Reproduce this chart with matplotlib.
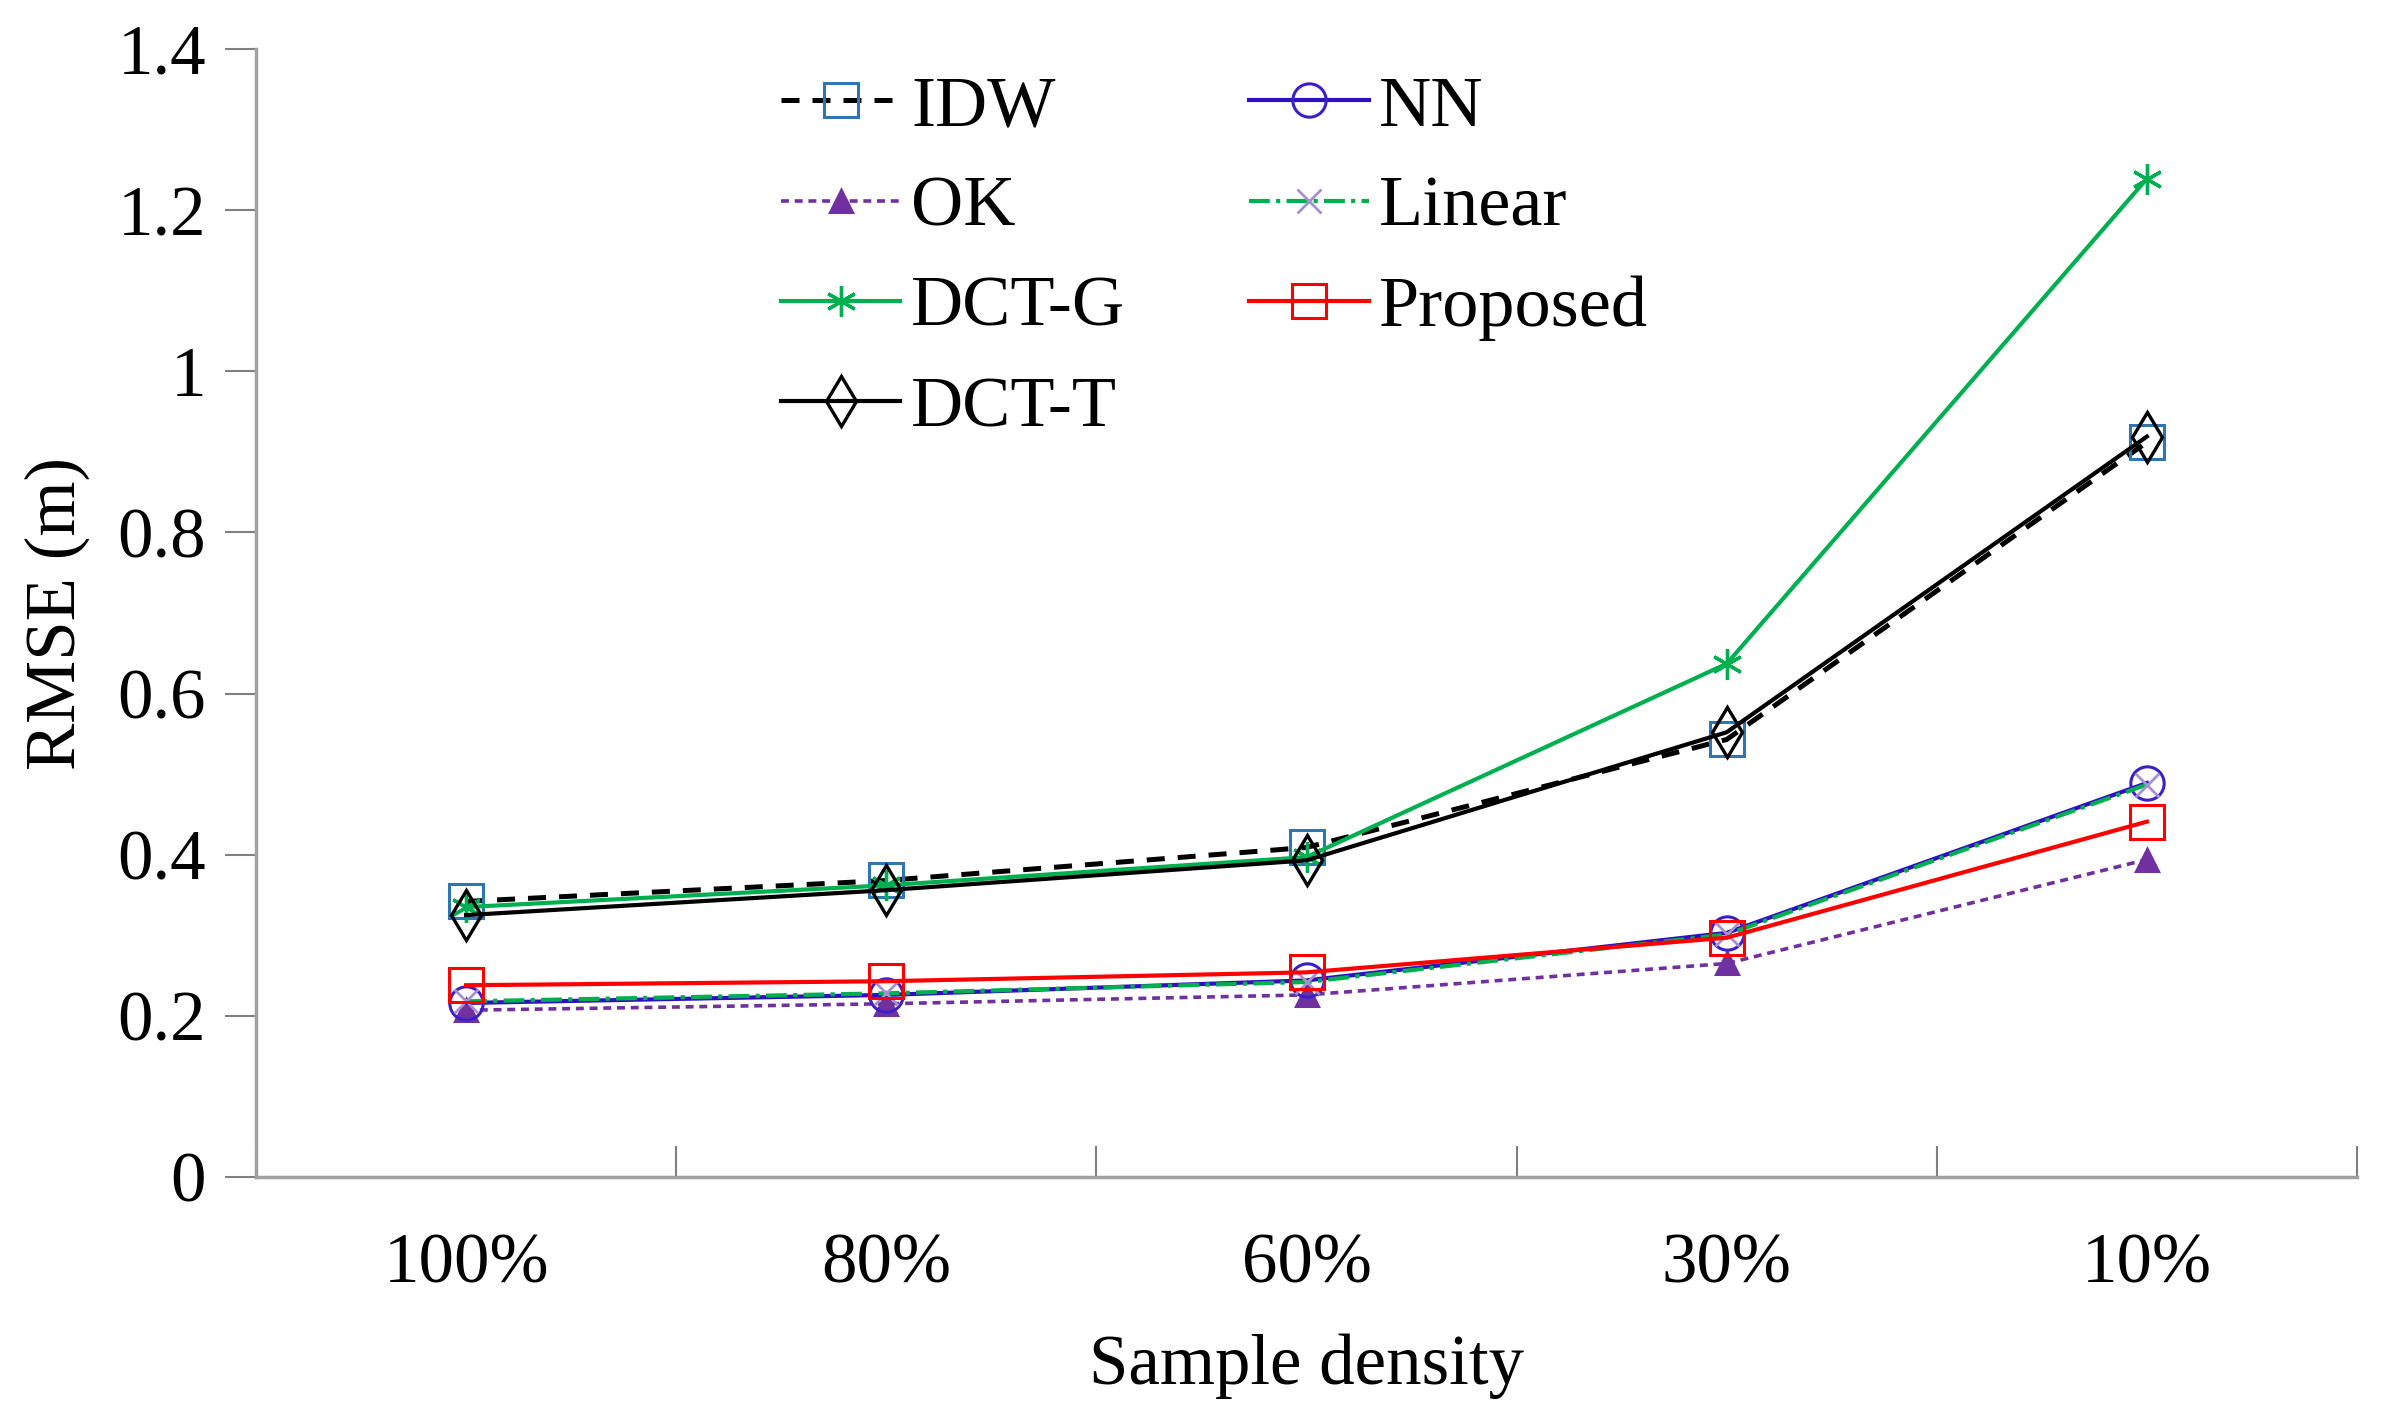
import matplotlib
matplotlib.use("Agg")
import matplotlib.pyplot as plt
import numpy as np

categories = ["100%", "80%", "60%", "30%", "10%"]
idw = [0.342, 0.368, 0.409, 0.543, 0.912]
nn = [0.216, 0.226, 0.244, 0.303, 0.489]
ok = [0.207, 0.215, 0.226, 0.265, 0.394]
linear = [0.218, 0.228, 0.242, 0.301, 0.487]
dct_g = [0.335, 0.362, 0.397, 0.637, 1.239]
proposed = [0.238, 0.243, 0.254, 0.297, 0.441]
dct_t = [0.325, 0.356, 0.393, 0.552, 0.919]
yticks = [0, 0.2, 0.4, 0.6, 0.8, 1.0, 1.2, 1.4]
ytick_labels = ["0", "0.2", "0.4", "0.6", "0.8", "1", "1.2", "1.4"]

plt.rcParams['font.family'] = ['Liberation Serif', 'DejaVu Serif']

W, H = 2387, 1423
fig = plt.figure(figsize=(W / 100, H / 100), dpi=100)
ax = fig.add_axes([256 / W, 1 - 1177 / H, (2357 - 256) / W, (1177 - 49) / H])

x = np.arange(len(categories))
lw = 3.0
mew = 2.2

h_idw, = ax.plot(x, idw, color='black', lw=3.6, ls=(0, (3.6, 2.6)), marker='s', ms=24,
                 mfc='none', mec='#2e75b6', mew=mew, label='IDW')
h_ok, = ax.plot(x, ok, color='#7030a0', lw=2.6, ls=(0, (2.2, 1.6)), marker='^', ms=16,
                mfc='#7030a0', mec='#7030a0', mew=mew, label='OK')
h_dctg, = ax.plot(x, dct_g, color='#00b050', lw=lw, marker=(6, 2, 0), ms=22,
                  mec='#00b050', mew=2.4, label='DCT-G')
h_dctt, = ax.plot(x, dct_t, color='black', lw=lw, marker='d', ms=25,
                  mfc='none', mec='black', mew=2.4, label='DCT-T')
h_nn, = ax.plot(x, nn, color='#2e10c0', lw=lw, marker='o', ms=24,
                mfc='none', mec='#3a20c8', mew=mew, label='NN')
h_lin, = ax.plot(x, linear, color='#00b050', lw=lw, ls=(0, (5, 1.5, 1, 1.5)), marker='x', ms=17,
                 mfc='none', mec='#a890d0', mew=2.0, label='Linear')
h_prop, = ax.plot(x, proposed, color='#ff0000', lw=lw, marker='s', ms=24,
                  mfc='none', mec='#ff0000', mew=mew, label='Proposed')

ax.set_xlim(-0.5, len(categories) - 0.5)
ax.set_ylim(0, 1.4)
ax.set_xticks(x)
ax.set_xticklabels(categories, fontsize=51)
ax.set_xticks(np.arange(-0.5, len(categories), 1.0), minor=True)
ax.tick_params(axis='x', which='major', length=0, pad=40)
ax.tick_params(axis='x', which='minor', direction='in', length=22, width=1.5, color='#808080')
ax.set_yticks(yticks)
ax.set_yticklabels(ytick_labels, fontsize=51)
ax.tick_params(axis='y', which='major', direction='out', length=22, width=1.5, color='#808080', pad=14)

for s in ['top', 'right']:
    ax.spines[s].set_visible(False)
for s in ['left', 'bottom']:
    ax.spines[s].set_color('#a0a0a0')
    ax.spines[s].set_linewidth(2.5)

ax.set_xlabel('Sample density', fontsize=51, labelpad=26)
ax.set_ylabel('RMSE (m)', fontsize=51, labelpad=20)

handles = [h_idw, h_ok, h_dctg, h_dctt, h_nn, h_lin, h_prop]
leg = fig.legend(handles=handles, labels=[h.get_label() for h in handles], ncol=2,
                 loc='upper left', bbox_to_anchor=(781 / W, 1 - 75 / H), frameon=False,
                 fontsize=52, handlelength=1.65, handletextpad=0.15, columnspacing=1.72,
                 labelspacing=0.48, borderpad=0, borderaxespad=0)

fig.savefig('out.png', dpi=100)
